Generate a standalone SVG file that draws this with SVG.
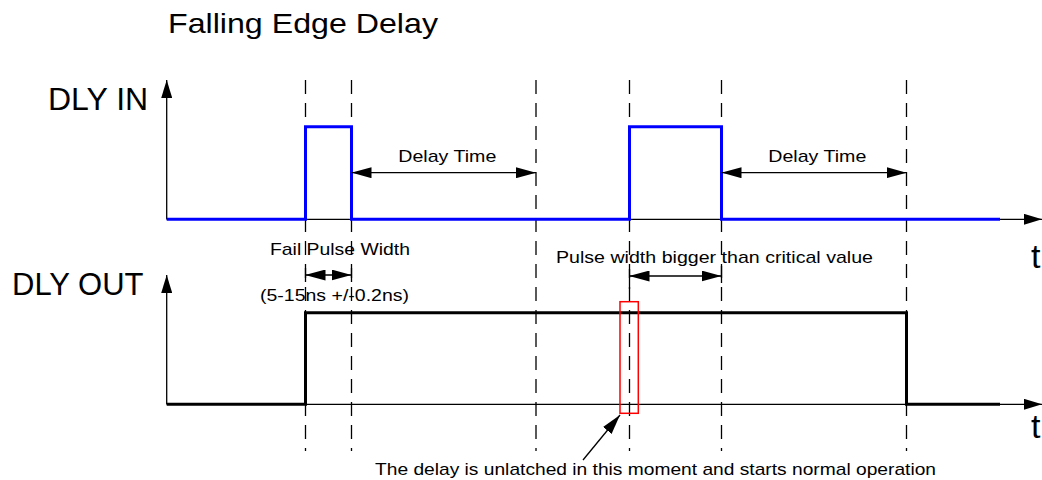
<svg xmlns="http://www.w3.org/2000/svg" width="1042" height="480" viewBox="0 0 1042 480">
<defs>
<marker id="ah" markerUnits="userSpaceOnUse" markerWidth="20" markerHeight="11" viewBox="0 0 20 11" refX="20" refY="5.5" orient="auto-start-reverse"><path d="M0,0 L20,5.5 L0,11 z" fill="#000"/></marker>
<marker id="ax" markerUnits="userSpaceOnUse" markerWidth="18" markerHeight="11" viewBox="0 0 18 11" refX="18" refY="5.5" orient="auto"><path d="M0,0 L18,5.5 L0,11 z" fill="#000"/></marker>
</defs>
<style>
text{font-family:"Liberation Sans",Arial,sans-serif;fill:#000}
.axis{stroke:#000;stroke-width:1.3;fill:none}
.dash{stroke:#000;stroke-width:1.3;stroke-dasharray:14 9;fill:none}
.in{stroke:#0000ff;stroke-width:3;fill:none;stroke-linejoin:miter}
.out{stroke:#000;stroke-width:3;fill:none;stroke-linejoin:miter}
.dim{stroke:#000;stroke-width:1.3;fill:none}
.lbl{font-size:17px}
</style>
<rect width="1042" height="480" fill="#fff"/>
<text x="168" y="33" font-size="28" textLength="270" lengthAdjust="spacingAndGlyphs">Falling Edge Delay</text>
<g id="guides">
<line class="dash" x1="305.5" y1="80" x2="305.5" y2="451"/>
<line class="dash" x1="351.5" y1="80" x2="351.5" y2="451"/>
<line class="dash" x1="536" y1="80" x2="536" y2="451"/>
<line class="dash" x1="629.5" y1="80" x2="629.5" y2="451"/>
<line class="dash" x1="721.5" y1="80" x2="721.5" y2="451"/>
<line class="dash" x1="906.5" y1="80" x2="906.5" y2="451"/>
</g>
<g id="dly-in">
<text x="48" y="110" font-size="32">DLY IN</text>
<line class="axis" x1="166.7" y1="219.3" x2="166.7" y2="80" marker-end="url(#ax)"/>
<line class="axis" x1="166.7" y1="219.3" x2="1042" y2="219.3" marker-end="url(#ax)"/>
<polyline class="in" points="166.7,219.3 305.5,219.3 305.5,126.7 351.5,126.7 351.5,219.3 629.5,219.3 629.5,126.7 721.5,126.7 721.5,219.3 1000,219.3"/>
<text x="1031" y="268" font-size="34">t</text>
</g>
<g id="dly-out">
<text x="12" y="295" font-size="31">DLY OUT</text>
<line class="axis" x1="166.7" y1="404.3" x2="166.7" y2="275" marker-end="url(#ax)"/>
<line class="axis" x1="166.7" y1="404.3" x2="1042" y2="404.3" marker-end="url(#ax)"/>
<polyline class="out" points="166.7,404.3 305.5,404.3 305.5,312.7 906.5,312.7 906.5,404.3 1000,404.3"/>
<text x="1031" y="438" font-size="34">t</text>
</g>
<g id="connectors">
<line class="dim" x1="351.5" y1="172.7" x2="536" y2="172.7" marker-start="url(#ah)" marker-end="url(#ah)"/>
<line class="dim" x1="721.5" y1="172.7" x2="906.5" y2="172.7" marker-start="url(#ah)" marker-end="url(#ah)"/>
<line class="dim" x1="305.5" y1="275" x2="351.5" y2="275" marker-start="url(#ah)" marker-end="url(#ah)"/>
<line class="dim" x1="629.5" y1="276" x2="721.5" y2="276" marker-start="url(#ah)" marker-end="url(#ah)"/>
<line class="dim" x1="305.5" y1="268" x2="305.5" y2="282"/>
<line class="dim" x1="351.5" y1="268" x2="351.5" y2="282"/>
<line class="dim" x1="629.5" y1="269" x2="629.5" y2="289"/>
<line class="dim" x1="721.5" y1="266" x2="721.5" y2="283"/>
<line class="dim" x1="583" y1="460" x2="620" y2="415" marker-end="url(#ah)"/>
</g>
<g id="labels">
<text class="lbl" x="398.3" y="162" textLength="98" lengthAdjust="spacingAndGlyphs">Delay Time</text>
<text class="lbl" x="768.3" y="162" textLength="98" lengthAdjust="spacingAndGlyphs">Delay Time</text>
<text class="lbl" x="270" y="255" textLength="140" lengthAdjust="spacingAndGlyphs">Fail Pulse Width</text>
<text class="lbl" x="260" y="301" textLength="149" lengthAdjust="spacingAndGlyphs">(5-15ns +/-0.2ns)</text>
<text class="lbl" x="556" y="263" textLength="317" lengthAdjust="spacingAndGlyphs">Pulse width bigger than critical value</text>
<text class="lbl" x="375" y="475" textLength="561" lengthAdjust="spacingAndGlyphs">The delay is unlatched in this moment and starts normal operation</text>
</g>
<g id="marker-box">
<rect x="620" y="301.7" width="18.3" height="111.6" fill="none" stroke="#ff0000" stroke-width="1.5"/>
</g>
</svg>
